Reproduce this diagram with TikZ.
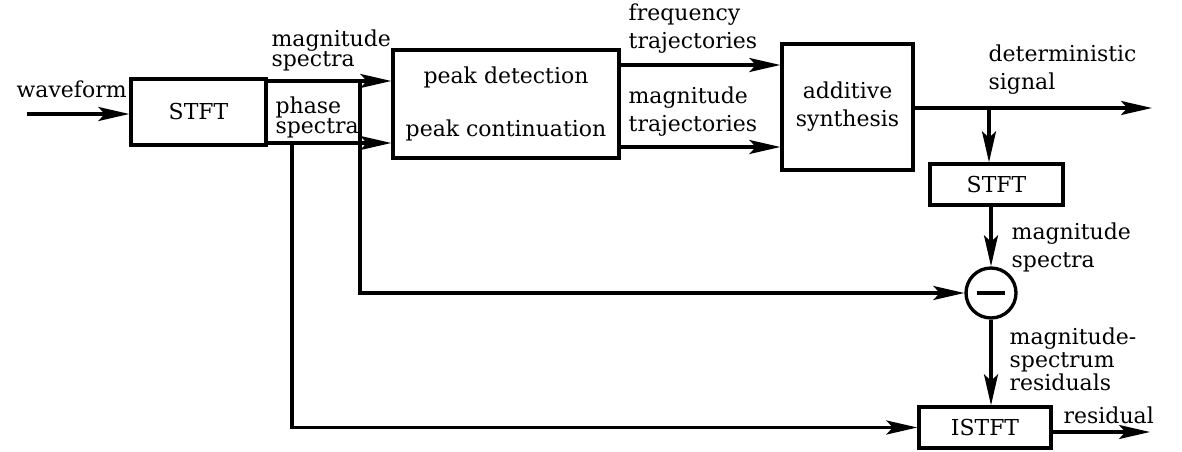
\documentclass[tikz,border=0pt]{standalone}
\usepackage{fontspec}
\setmainfont{DejaVu Serif}
\usetikzlibrary{arrows.meta}

\begin{document}
\begin{tikzpicture}[x=0.02cm,y=-0.02cm,line width=1.9pt,
    font=\fontsize{12.5}{16}\selectfont,
    bloque/.style={draw,inner sep=0pt,align=center},
    etiq/.style={inner sep=0pt,align=left,anchor=west},
    flecha/.style={->,>={Stealth[length=0.62cm,width=0.28cm,inset=0.13cm]}}]
  \useasboundingbox (0,0) rectangle (1182,452);
  % bloques
  \node[bloque,minimum width=2.7cm,minimum height=1.32cm] (stft) at (198.5,112) {STFT};
  \node[bloque,minimum width=4.52cm,minimum height=2.16cm] (pico) at (506,104)
    {peak detection\\[14pt]peak continuation};
  \node[bloque,minimum width=2.62cm,minimum height=2.52cm] (sintesis) at (847.5,107)
    {additive\\synthesis};
  \node[bloque,minimum width=2.66cm,minimum height=0.82cm] (stftb) at (996.5,184.5) {STFT};
  \node[draw,circle,inner sep=0pt,minimum size=1.0cm] (resta) at (991,293) {\rule{0.55cm}{2.2pt}};
  \node[bloque,minimum width=2.64cm,minimum height=0.82cm] (istft) at (985,427.5) {ISTFT};
  % puntos auxiliares
  \coordinate (entrada) at (27,114);
  \coordinate (mag) at (stft.east |- 0,81);
  \coordinate (fase) at (stft.east |- 0,143);
  \coordinate (jmag) at (360,81);
  \coordinate (jfase) at (292,143);
  \coordinate (det) at (sintesis.east |- 0,108);
  \coordinate (salida) at (1152,108);
  \coordinate (jdet) at (989,108);
  \coordinate (res) at (1150,432);
  % flechas
  \draw[flecha] (entrada) -- (entrada -| stft.west);
  \draw[flecha] (mag) -- (mag -| pico.west);
  \draw[flecha] (fase) -- (fase -| pico.west);
  \draw[flecha] (jmag) |- (resta.west);
  \draw[flecha] (jfase) |- (istft.west);
  \draw[flecha] (pico.east |- 0,65) -- (sintesis.west |- 0,65);
  \draw[flecha] (pico.east |- 0,147) -- (sintesis.west |- 0,147);
  \draw[flecha] (det) -- (salida);
  \draw[flecha] (jdet) -- (jdet |- stftb.north);
  \draw[flecha] (stftb.south -| resta) -- (resta.north);
  \draw[flecha] (resta.south) -- (resta |- istft.north);
  \draw[flecha] (istft.east |- res) -- (res);
  % etiquetas
  \node[etiq,anchor=base west] (londa) at (15,98) {waveform};
  \node[etiq] (lmag) at (270,50) {magnitude\\[-4.6pt]spectra};
  \node[etiq] (lfase) at (274,117) {phase\\[-4.6pt]spectra};
  \node[etiq] (lfrec) at (627,29) {frequency\\trajectories};
  \node[etiq] (lmagt) at (627,112) {magnitude\\trajectories};
  \node[etiq] (ldet) at (987,70) {deterministic\\signal};
  \node[etiq] (lmagb) at (1010,247) {magnitude\\spectra};
  \node[etiq] (lres) at (1008,359) {magnitude-\\[-3pt]spectrum\\[-3pt]residuals};
  \node[etiq,anchor=base west] (lresid) at (1062,423) {residual};
\end{tikzpicture}
\end{document}
